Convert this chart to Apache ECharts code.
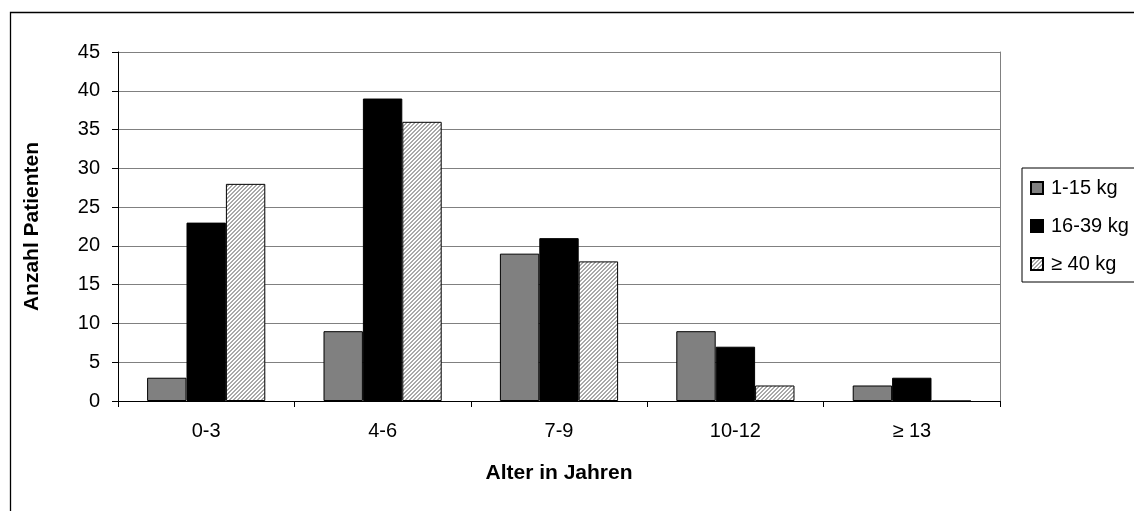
<!DOCTYPE html>
<html><head><meta charset="utf-8">
<script src="https://cdn.jsdelivr.net/npm/echarts@6/dist/echarts.min.js"></script>
<style>html,body{margin:0;padding:0;background:#fff}#c{width:1134px;height:511px}</style>
</head><body><div id="c"></div>
<script>
const categories = ['0-3', '4-6', '7-9', '10-12', '≥ 13'];
const seriesNames = ['1-15 kg', '16-39 kg', '≥ 40 kg'];
const s1 = [3, 9, 19, 9, 2];
const s2 = [23, 39, 21, 7, 3];
const s3 = [28, 36, 18, 2, 0];
const yTicks = [0, 5, 10, 15, 20, 25, 30, 35, 40, 45];

const pc = document.createElement('canvas');
pc.width = 8; pc.height = 8;
const ctx = pc.getContext('2d');
ctx.fillStyle = '#ffffff'; ctx.fillRect(0, 0, 8, 8);
ctx.fillStyle = '#a8a8a8';
for (let x = 0; x < 8; x++) for (let y = 0; y < 8; y++) if (((x + y) % 4) < 2) ctx.fillRect(x, y, 1, 1);
const hatch = { image: pc, repeat: 'repeat' };

const font = 'Liberation Sans, Arial, sans-serif';
const chart = echarts.init(document.getElementById('c'));
const mk = (name, data, color) => ({
  name, type: 'bar', data, barGap: '0%', barCategoryGap: '33%',
  itemStyle: { color, borderColor: '#000', borderWidth: 1 }, animation: false
});
chart.setOption({
  animation: false,
  textStyle: { fontFamily: font },
  graphic: [{ type: 'rect', shape: { x: 10.5, y: 12.5, width: 1300, height: 700 }, style: { fill: 'none', stroke: '#000', lineWidth: 1.3 }, silent: true }],
  grid: { left: 118, right: 134, top: 52, bottom: 110 },
  legend: {
    orient: 'vertical', left: 1022, top: 168, padding: [10, 14, 8, 8], itemGap: 18,
    itemWidth: 12, itemHeight: 12, borderColor: '#000', borderWidth: 1, borderRadius: 0,
    textStyle: { fontSize: 20, lineHeight: 20, color: '#000', fontFamily: font, padding: [0, 0, 0, 3] },
    data: seriesNames.map(n => ({ name: n, icon: 'rect' }))
  },
  xAxis: {
    type: 'category', data: categories,
    name: 'Alter in Jahren', nameLocation: 'middle', nameGap: 62,
    nameTextStyle: { fontSize: 21, fontWeight: 'bold', color: '#000', fontFamily: font },
    axisLine: { lineStyle: { color: '#000', width: 1 } },
    axisTick: { show: true, length: 6, lineStyle: { color: '#000' } },
    axisLabel: { fontSize: 20, color: '#000', margin: 20, fontFamily: font }
  },
  yAxis: [{
    type: 'value', min: 0, max: 45, interval: 5,
    name: 'Anzahl Patienten', nameLocation: 'middle', nameGap: 75, nameRotate: 90,
    nameTextStyle: { fontSize: 21, fontWeight: 'bold', color: '#000', fontFamily: font },
    axisLine: { show: true, lineStyle: { color: '#000' } },
    axisTick: { show: true, length: 6, lineStyle: { color: '#000' } },
    axisLabel: { fontSize: 20, color: '#000', margin: 18, fontFamily: font,
      formatter: v => yTicks.includes(v) ? String(v) : '' },
    splitLine: { lineStyle: { color: '#808080', width: 1 } }
  }, {
    type: 'value', min: 0, max: 45, interval: 5, position: 'right',
    axisLine: { show: true, lineStyle: { color: '#808080' } },
    axisTick: { show: false }, axisLabel: { show: false }, splitLine: { show: false }
  }],
  series: [mk(seriesNames[0], s1, '#808080'), mk(seriesNames[1], s2, '#000000'), mk(seriesNames[2], s3, hatch)]
});
</script></body></html>
